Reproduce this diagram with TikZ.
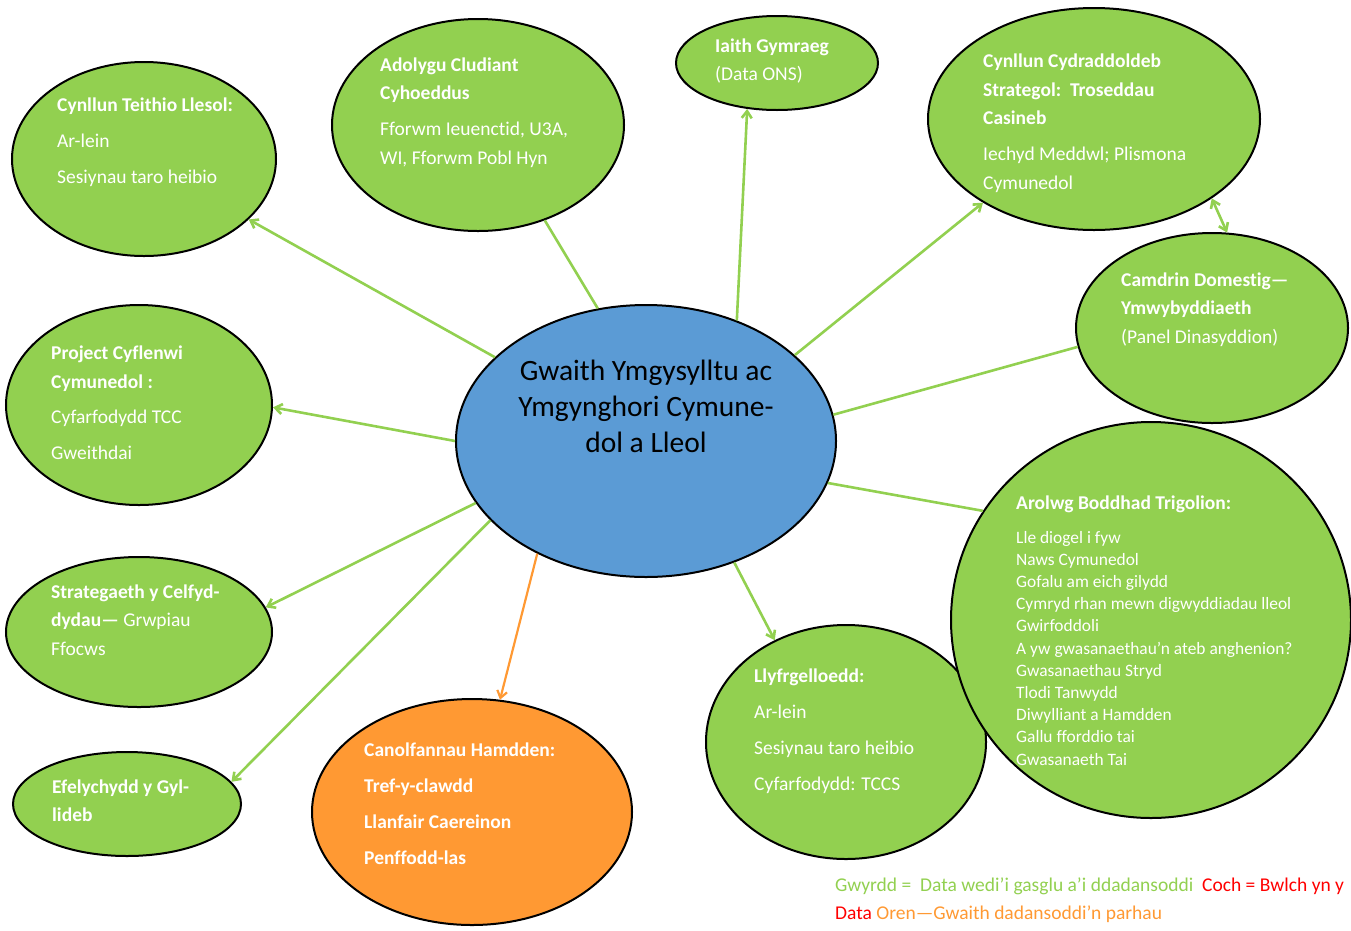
\documentclass[tikz,border=0pt]{standalone}
\usepackage{fontspec}
\setmainfont{Carlito}[Ligatures={NoCommon}]
\usetikzlibrary{shapes.geometric,arrows.meta}
\definecolor{lgreen}{HTML}{92D050}
\definecolor{lorange}{HTML}{FF9933}
\definecolor{lblue}{HTML}{5B9BD5}
\definecolor{lred}{HTML}{FF0000}
\begin{document}
\begin{tikzpicture}[x=1pt,y=-1pt,
  bub/.style={ellipse, draw=black, line width=2pt, fill=lgreen, inner sep=0pt},
  txt/.style={anchor=base west, align=left, text=white, inner sep=0pt, font=\fontsize{19.5}{29}\selectfont},
  conn/.style={draw=lgreen, line width=2.6pt},
  tip/.tip={Straight Barb[length=7pt,width=10pt]},
  arr/.style={conn, -tip},
]
\useasboundingbox (0,0) rectangle (1351,930);
% bubbles
\node[bub, minimum width=264pt, minimum height=194pt] (e1) at (144,159) {};
\node[bub, minimum width=292pt, minimum height=212pt] (e2) at (478,125) {};
\node[bub, minimum width=202pt, minimum height=94pt] (e3) at (777,63) {};
\node[bub, minimum width=332pt, minimum height=222pt] (e4) at (1094,119) {};
\node[bub, minimum width=272pt, minimum height=190pt] (e5) at (1212,328) {};
\node[bub, minimum width=266pt, minimum height=200pt] (e7) at (139,405) {};
\node[bub, minimum width=266pt, minimum height=150pt] (e8) at (139,632) {};
\node[bub, minimum width=228pt, minimum height=104pt] (e9) at (127,804) {};
\node[bub, fill=lorange, minimum width=320pt, minimum height=226pt] (e10) at (472,812) {};
\node[bub, minimum width=280pt, minimum height=234pt] (e11) at (846,742) {};
\node[bub, minimum width=400pt, minimum height=396pt] (e6) at (1151,620) {};
\node[bub, fill=lblue, minimum width=380pt, minimum height=272pt] (c) at (646,441) {};
% texts (anchored at the baseline of their last line)
\node[txt, font=\fontsize{19.5}{36}\selectfont] (t1) at (57,183)
  {\textbf{Cynllun Teithio Llesol:}\\Ar-lein\\Sesiynau taro heibio};
\node[txt, font=\fontsize{19.5}{28.5}\selectfont] (t2) at (380,164)
  {\textbf{Adolygu Cludiant}\\\textbf{Cyhoeddus}\\[7.5pt]Fforwm Ieuenctid, U3A,\\WI, Fforwm Pobl Hyn};
\node[txt, font=\fontsize{19.5}{28}\selectfont] (t3) at (715,80)
  {\textbf{Iaith Gymraeg}\\(Data ONS)};
\node[txt, font=\fontsize{19.5}{28.5}\selectfont] (t4) at (983,189)
  {\textbf{Cynllun Cydraddoldeb}\\\textbf{Strategol:\ \ Troseddau}\\\textbf{Casineb}\\[7.5pt]Iechyd Meddwl; Plismona\\Cymunedol};
\node[txt, font=\fontsize{19.5}{28.5}\selectfont] (t5) at (1121,343)
  {\textbf{Camdrin Domestig—}\\\textbf{Ymwybyddiaeth}\\(Panel Dinasyddion)};
\node[txt] (t6a) at (1016,509) {\textbf{Arolwg Boddhad Trigolion:}};
\node[txt, font=\fontsize{17.4}{22.2}\selectfont] (t6) at (1016,765)
  {Lle diogel i fyw\\Naws Cymunedol\\Gofalu am eich gilydd\\Cymryd rhan mewn digwyddiadau lleol\\Gwirfoddoli\\A yw gwasanaethau’n ateb anghenion?\\Gwasanaethau Stryd\\Tlodi Tanwydd\\Diwylliant a Hamdden\\Gallu fforddio tai\\Gwasanaeth Tai};
\node[txt, font=\fontsize{19.5}{29}\selectfont] (t7) at (51,459)
  {\textbf{Project Cyflenwi}\\\textbf{Cymunedol :}\\[6pt]Cyfarfodydd TCC\\[7pt]Gweithdai};
\node[txt, font=\fontsize{19.5}{28.5}\selectfont] (t8) at (51,655)
  {\textbf{Strategaeth y Celfyd-}\\\textbf{dydau—} Grwpiau\\Ffocws};
\node[txt, font=\fontsize{19.5}{28}\selectfont] (t9) at (52,821)
  {\textbf{Efelychydd y Gyl-}\\\textbf{lideb}};
\node[txt, font=\fontsize{19.5}{36}\selectfont\bfseries] (t10) at (364,864)
  {Canolfannau Hamdden:\\Tref-y-clawdd\\Llanfair Caereinon\\Penffodd-las};
\node[txt, font=\fontsize{19.5}{36}\selectfont] (t11) at (754,790)
  {\textbf{Llyfrgelloedd:}\\Ar-lein\\Sesiynau taro heibio\\Cyfarfodydd: TCCS};
\node[anchor=base, align=center, inner sep=0pt, font=\fontsize{29.5}{36}\selectfont] (tc) at (646,452)
  {Gwaith Ymgysylltu ac\\Ymgynghori Cymune-\\dol a Lleol};
% legend
\node[anchor=base west, inner sep=0pt, font=\fontsize{19.5}{20}\selectfont] (l1) at (835,891)
  {\textcolor{lgreen}{Gwyrdd =\ \ Data wedi’i gasglu a’i ddadansoddi}\ \ \textcolor{lred}{Coch = Bwlch yn y}};
\node[anchor=base west, inner sep=0pt, font=\fontsize{19.5}{20}\selectfont] (l2) at (835,919)
  {\textcolor{lred}{Data} \textcolor{lorange}{Oren—Gwaith dadansoddi’n parhau}};
% connectors
\draw[arr] (c.151.2) -- (e1.-30.4);
\draw[conn] (c.110.5) -- (e2.-55);
\draw[arr] (c.53.7) -- (e3.-123.4);
\draw[arr] (c.30) -- (e4.217.2);
\draw[conn, tip-tip] (e4.-34.5) -- (e5.81.6);
\draw[conn] (c.8.4) -- (e5.188.2);
\draw[conn] (c.-13.2) -- (e6.147.9);
\draw[arr] (c.-54.3) -- (e11.125.6);
\draw[arr, draw=lorange, line width=2.2pt] (c.226) -- (e10.76.5);
\draw[arr] (c.207.4) -- (e9.12);
\draw[arr] (c.200) -- (e8.11.8);
\draw[arr] (c.180.6) -- (e7.-1.2);
\end{tikzpicture}
\end{document}
